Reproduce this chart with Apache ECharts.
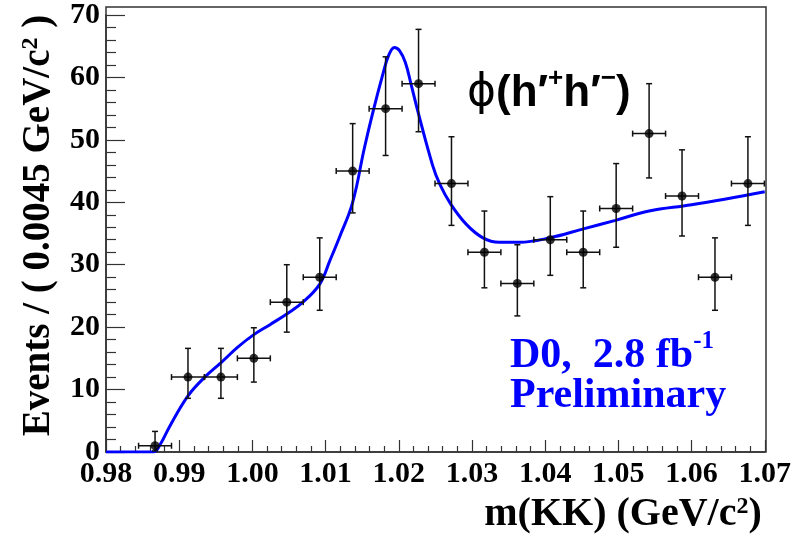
<!DOCTYPE html>
<html><head><meta charset="utf-8">
<script src="https://cdn.jsdelivr.net/npm/echarts@6/dist/echarts.min.js"></script>
<style>html,body{margin:0;padding:0;background:#fff}#c{width:794px;height:541px}</style>
</head><body><div id="c"></div>
<script>
// ---- data ----
const massCenters = [0.9867, 0.9912, 0.9957, 1.0002, 1.0047, 1.0092, 1.0137, 1.0182, 1.0227, 1.0272,
                     1.0317, 1.0362, 1.0407, 1.0452, 1.0497, 1.0542, 1.0587, 1.0632, 1.0677];
const counts     = [1, 12, 12, 15, 24, 28, 45, 55, 59, 43, 32, 27, 34, 32, 39, 51, 41, 28, 43];
const errLow     = [0.83, 3.4, 3.4, 3.8, 4.8, 5.3, 6.7, 7.5, 7.7, 6.7, 5.7, 5.2, 5.7, 5.7, 6.2, 7.1, 6.4, 5.3, 6.7];
const errHigh    = [2.3, 4.6, 4.6, 4.9, 6.0, 6.3, 7.6, 8.3, 8.7, 7.5, 6.6, 6.2, 6.9, 6.6, 7.2, 8.0, 7.4, 6.3, 7.5];
const binWidth = 0.0045;

const fitX = [0.9800, 0.9865, 0.9874, 0.9887, 0.9912, 0.9935, 0.9958, 0.9980, 1.0002, 1.0024,
              1.0048, 1.0069, 1.0092, 1.0106, 1.0119, 1.0137, 1.0153, 1.0165, 1.0178, 1.0186,
              1.0194, 1.0201, 1.0209, 1.0217, 1.0226, 1.0246, 1.0256, 1.0271, 1.0292, 1.0315,
              1.0337, 1.0365, 1.0406, 1.0451, 1.0496, 1.0542, 1.0600, 1.0700];
const fitY = [0.0, 0.0, 1.2, 4.1, 9.0, 12.0, 14.4, 16.8, 18.8, 20.4,
              22.2, 24.0, 26.9, 30.7, 34.4, 40.0, 48.7, 54.6, 60.4, 63.5,
              64.8, 64.3, 62.4, 58.8, 54.6, 46.0, 42.9, 39.7, 36.5, 34.3,
              33.6, 33.6, 34.3, 35.7, 37.1, 38.6, 39.6, 41.7];

const xMin = 0.98, xMax = 1.07, xStep = 0.01;
const yMin = 0, yMaxAxis = 70, yMaxFrame = 71, yStep = 10;

// ---- layout ----
const W = 794, H = 541;
const gL = 106, gR = 28, gB = 89, gT = 7;
const plotH = H - gB - gT;
const axisTop = gT + plotH * (yMaxFrame - yMaxAxis) / yMaxFrame;

const serif = "'Liberation Serif', 'Times New Roman', serif";
const sans = "'Liberation Sans', 'DejaVu Sans', Arial, sans-serif";
const axisCol = '#333';

const chart = echarts.init(document.getElementById('c'), null, {renderer: 'canvas'});

const points = massCenters.map((m, i) => [m, counts[i], errLow[i], errHigh[i]]);
const fitLine = fitX.map((x, i) => [x, fitY[i]]);

const option = {
  animation: false,
  backgroundColor: '#fff',
  grid: [
    {left: gL, right: gR, top: gT, bottom: gB, show: true, borderColor: axisCol, borderWidth: 1.5, backgroundColor: 'transparent'},
    {left: gL, right: gR, top: axisTop, bottom: gB}
  ],
  xAxis: [
    {gridIndex: 0, type: 'value', min: xMin, max: xMax, show: false},
    {
      gridIndex: 1, type: 'value', min: xMin, max: xMax, interval: xStep,
      axisLine: {show: true, onZero: false, lineStyle: {color: axisCol, width: 1.5}},
      axisTick: {show: true, inside: true, length: 12, lineStyle: {color: axisCol, width: 1.2}},
      minorTick: {show: true, splitNumber: 5, length: 6, lineStyle: {color: axisCol, width: 1.2}},
      splitLine: {show: false},
      axisLabel: {formatter: v => v.toFixed(2), fontFamily: serif, fontWeight: 'bold', fontSize: 30, color: '#000', margin: 7},
      name: '{t|m(KK) (GeV/c}{s|2}{t|)}',
      nameLocation: 'end', nameGap: -3,
      nameTextStyle: {
        align: 'right', verticalAlign: 'top', padding: [43, 0, 0, 0],
        fontFamily: serif, fontWeight: 'bold', fontSize: 40, color: '#000',
        rich: {
          t: {fontFamily: serif, fontWeight: 'bold', fontSize: 40, color: '#000'},
          s: {fontFamily: serif, fontWeight: 'bold', fontSize: 24, color: '#000', verticalAlign: 'top'}
        }
      }
    }
  ],
  yAxis: [
    {gridIndex: 0, type: 'value', min: yMin, max: yMaxFrame, show: false},
    {
      gridIndex: 1, type: 'value', min: yMin, max: yMaxAxis, interval: yStep,
      axisLine: {show: true, onZero: false, lineStyle: {color: axisCol, width: 1.5}},
      axisTick: {show: true, inside: true, length: 19, lineStyle: {color: axisCol, width: 1.2}},
      minorTick: {show: true, splitNumber: 5, length: 10, lineStyle: {color: axisCol, width: 1.2}},
      splitLine: {show: false},
      axisLabel: {fontFamily: serif, fontWeight: 'bold', fontSize: 30, color: '#000', margin: 6},
      name: '{t|Events / ( 0.0045 GeV/c}{s|2}{t| )}',
      nameLocation: 'middle', nameGap: 48, nameRotate: 90,
      nameTextStyle: {
        padding: [0, 0, 0, 16],
        fontFamily: serif, fontWeight: 'bold', fontSize: 39, color: '#000',
        rich: {
          t: {fontFamily: serif, fontWeight: 'bold', fontSize: 39, color: '#000'},
          s: {fontFamily: serif, fontWeight: 'bold', fontSize: 24, color: '#000', verticalAlign: 'top'}
        }
      }
    }
  ],
  series: [
    {
      type: 'line', xAxisIndex: 1, yAxisIndex: 1, data: fitLine,
      showSymbol: false, smooth: 0.4,
      lineStyle: {color: '#0000ff', width: 3}, z: 3
    },
    {
      type: 'custom', xAxisIndex: 1, yAxisIndex: 1, data: points, z: 4,
      renderItem: function (params, api) {
        const x = api.value(0), y = api.value(1), lo = api.value(2), hi = api.value(3);
        const top = api.coord([x, y + hi]);
        const bot = api.coord([x, Math.max(0, y - lo)]);
        const lft = api.coord([x - binWidth / 2, y]);
        const rgt = api.coord([x + binWidth / 2, y]);
        const st = {stroke: '#111', lineWidth: 1.5};
        const cap = 3;
        const mk = (x1, y1, x2, y2) => ({type: 'line', shape: {x1, y1, x2, y2}, style: st});
        return {type: 'group', children: [
          mk(top[0], top[1], bot[0], bot[1]),
          mk(top[0] - cap, top[1], top[0] + cap, top[1]),
          mk(bot[0] - cap, bot[1], bot[0] + cap, bot[1]),
          mk(lft[0], lft[1], rgt[0], rgt[1]),
          mk(lft[0], lft[1] - cap, lft[0], lft[1] + cap),
          mk(rgt[0], rgt[1] - cap, rgt[0], rgt[1] + cap)
        ]};
      }
    },
    {
      type: 'scatter', xAxisIndex: 1, yAxisIndex: 1, z: 5,
      data: points.map(p => [p[0], p[1]]),
      symbol: 'circle', symbolSize: 9, itemStyle: {color: '#000'}
    }
  ],
  graphic: [
    {
      type: 'text', left: 467, top: 66, z: 10,
      style: {
        text: '{p|ϕ}{b|(h′}{s|+}{b|h′}{s|−}{b|)}',
        rich: {
          p: {fontFamily: "'DejaVu Sans', sans-serif", fontSize: 44, fill: '#000', padding: [6, 0, 0, 0]},
          b: {fontFamily: sans, fontWeight: 'bold', fontSize: 44, fill: '#000', padding: [6, 0, 0, 0]},
          s: {fontFamily: sans, fontWeight: 'bold', fontSize: 26, fill: '#000', verticalAlign: 'top'}
        }
      }
    },
    {
      type: 'text', left: 510, top: 329, z: 10,
      style: {
        text: '{a|D0,  2.8 fb}{s|-1}',
        rich: {
          a: {fontFamily: serif, fontWeight: 'bold', fontSize: 42, fill: '#0000ff', padding: [6, 0, 0, 0]},
          s: {fontFamily: serif, fontWeight: 'bold', fontSize: 25, fill: '#0000ff', verticalAlign: 'top'}
        }
      }
    },
    {
      type: 'text', left: 510, top: 375, z: 10,
      style: {text: 'Preliminary', font: "bold 42px " + serif, fill: '#0000ff'}
    }
  ]
};
chart.setOption(option);
</script>
</body></html>
